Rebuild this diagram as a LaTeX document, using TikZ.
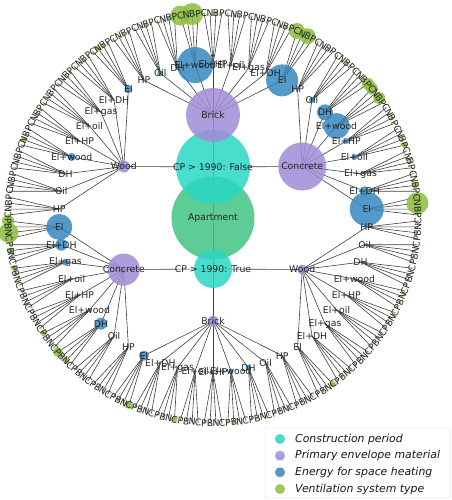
\documentclass[tikz,border=0pt]{standalone}
\usepackage{fontspec}
\setmainfont{DejaVu Sans}
\usepackage{tikz}
\usepackage{xcolor}
\usetikzlibrary{positioning}

\definecolor{aptcol}{RGB}{65,195,130}
\definecolor{cpcol}{RGB}{40,215,195}
\definecolor{matcol}{RGB}{160,140,215}
\definecolor{heatcol}{RGB}{55,135,190}
\definecolor{ventcol}{RGB}{140,190,60}

\pgfdeclarelayer{edges}
\pgfsetlayers{edges,main}

\tikzset{
    blob/.style={circle, draw=none, inner sep=0pt, minimum size=#1, fill opacity=0.85},
    aptnode/.style={blob=#1, fill=aptcol},
    cpnode/.style={blob=#1, fill=cpcol},
    matnode/.style={blob=#1, fill=matcol},
    heatnode/.style={blob=#1, fill=heatcol},
    ventnode/.style={blob=#1, fill=ventcol},
    link/.style={draw=black!75, line width=0.6pt},
    lbl/.style={font=\fontsize{9.3}{11}\selectfont, text=black!85, inner sep=0pt},
    keytext/.style={font=\fontsize{10.9}{13}\selectfont\itshape, text=black!90, anchor=west, inner sep=0pt}
}

% radii of heating nodes (sector*9 + heating) and ventilation leaves (sector*36 + heating*4 + type)
\def\heatr{{16,1,1.5,1.5,1,18,2,3,1.5, 17,5,1.5,3,3,13,8,3,1.5, 4,1,1,1,1,4,1,1,1, 13,6,3.5,1.5,1.5,2,6,1.5,1, 1.5,1,1,1,1,1.5,1,1,1, 5,1.5,2,1,1.5,2.5,3,1,1}}
\def\leafr{{1,8,1.5,8, 1,2,1,1, 1,1.5,1,1, 1,1.5,1,1, 1,2,1,1, 1,11,3,10, 1,2,1,1, 1,2,1,1, 1,1.5,1,1,
  1.5,3,11,2, 1,3,1,1, 1,2,1,1, 3,2,1,1, 1,2,1,1, 1,6,2,6, 6,2,1,1, 1,2,1,1, 1,1.5,1,1,
  1,2,3,1, 1,1.5,1,1, 1,1.5,1,1, 1,1,1,1, 1,1,1,1, 1,1.5,3,1, 1,1,1,1, 1,1,1,1, 1,1,1,1,
  6,3,10,1.5, 1,3,1,1, 3,2,1,1, 1,1.5,1,1, 1,1.5,1,1, 3,1.5,1,1, 5,2,3,1, 1,1.5,1,1, 1,1,1,1,
  1,1.5,1,3, 1,1,1,1, 1,1,1,1, 1,1,1,1, 1,1,1,1, 1,1.5,1,1, 1,1,1,1, 1,1,1,1, 1,1,1,1,
  1,2,1.5,4, 1,1.5,1,1, 1,1.5,1,3, 1,1,1,1, 1,1.5,1,1, 1,2,1,1, 1,1.5,1,1, 1,1,1,1, 1,1,1,1}}

\begin{document}
\begin{tikzpicture}[x=1pt, y=1pt]
    \useasboundingbox (-213,-282) rectangle (238,218);

    % Root and construction period
    \node (apt) at (0,0) [aptnode=83pt] {};
    \node (cpf) at (90:51) [cpnode=74pt] {};
    \node (cpt) at (270:51) [cpnode=38pt] {};

    % Envelope material, heating and ventilation rings
    \foreach \s/\th/\md in {0/90/54, 1/30/48, 2/150/12, 3/210/32, 4/330/10, 5/270/11} {
        \node (m\s) at (\th:103) [matnode=\md pt] {};
        \foreach \k in {0,...,8} {
            \pgfmathsetmacro\hth{\th-30+6.66667*(\k+0.5)}
            \pgfmathsetmacro\hd{2*\heatr[int(\s*9+\k)]}
            \node (h\s-\k) at (\hth:154) [heatnode=\hd pt] {};
            \foreach \j in {0,...,3} {
                \pgfmathsetmacro\lth{\th-30+1.66667*(4*\k+\j+0.5)}
                \pgfmathsetmacro\ld{2*\leafr[int(\s*36+\k*4+\j)]}
                \node (v\s-\k-\j) at (\lth:205) [ventnode=\ld pt] {};
            }
        }
    }

    % Connectors, behind the nodes
    \begin{pgfonlayer}{edges}
        \draw [link] (apt.center) -- (cpf.center);
        \draw [link] (apt.center) -- (cpt.center);
        \foreach \s/\cp in {0/cpf, 1/cpf, 2/cpf, 3/cpt, 4/cpt, 5/cpt} {
            \draw [link] (\cp.center) -- (m\s.center);
            \foreach \k in {0,...,8} {
                \draw [link] (m\s.center) -- (h\s-\k.center);
                \foreach \j in {0,...,3}
                    \draw [link] (h\s-\k.center) -- (v\s-\k-\j.center);
            }
        }
    \end{pgfonlayer}

    % Labels
    \node (apt-t) at (apt) [lbl] {Apartment};
    \node (cpf-t) at (cpf) [lbl] {CP > 1990: False};
    \node (cpt-t) at (cpt) [lbl] {CP > 1990: True};
    \foreach \s/\th/\mname in {0/90/Brick, 1/30/Concrete, 2/150/Wood, 3/210/Concrete, 4/330/Wood, 5/270/Brick} {
        \node (m\s-t) at (m\s) [lbl] {\mname};
        \foreach \k/\hname in {0/El, 1/El+DH, 2/El+gas, 3/El+oil, 4/El+HP, 5/El+wood, 6/DH, 7/Oil, 8/HP} {
            \node (h\s-\k-t) at (h\s-\k) [lbl] {\hname};
            \foreach \j/\vname in {0/P, 1/B, 2/N, 3/C} {
                \pgfmathsetmacro\lth{\th-30+1.66667*(4*\k+\j+0.5)}
                \pgfmathsetmacro\rot{\lth<=180 ? \lth-90 : \lth+90}
                \node (v\s-\k-\j-t) at (v\s-\k-\j) [lbl, rotate=\rot] {\vname};
            }
        }
    }

    % Legend
    \draw [black!15, fill=white, rounded corners=2pt] (52,-210) rectangle (237.5,-280);
    \node (k1) at (67,-221) [cpnode=10pt] {};
    \node (k2) at (67,-237.7) [matnode=10pt] {};
    \node (k3) at (67,-254.3) [heatnode=10pt] {};
    \node (k4) at (67,-271) [ventnode=10pt] {};
    \node (k1-t) [keytext, right=15pt of k1.center] {Construction period};
    \node (k2-t) [keytext, right=15pt of k2.center] {Primary envelope material};
    \node (k3-t) [keytext, right=15pt of k3.center] {Energy for space heating};
    \node (k4-t) [keytext, right=15pt of k4.center] {Ventilation system type};
\end{tikzpicture}
\end{document}
